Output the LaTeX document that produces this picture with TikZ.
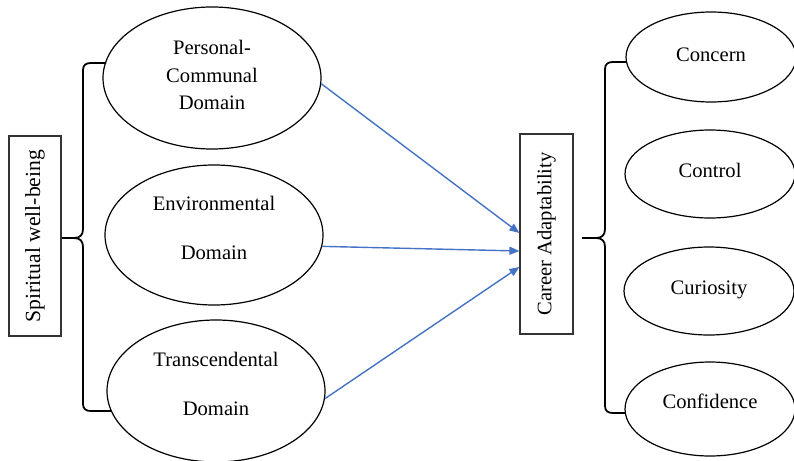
\documentclass[tikz,border=0pt]{standalone}
\usepackage{fontspec}
\setmainfont{Liberation Serif}
\usetikzlibrary{arrows.meta,shapes.geometric}
\definecolor{arrowblue}{HTML}{4472C4}
\begin{document}
\begin{tikzpicture}[x=1pt,y=-1pt,
  font=\fontsize{20.6}{27.5}\selectfont,
  domel/.style={draw=black, line width=1.2pt, ellipse, inner sep=0pt, minimum width=218pt, minimum height=142pt},
  subel/.style={draw=black, line width=1.2pt, ellipse, inner sep=0pt, minimum width=170pt},
  vbox/.style={draw=black!80, line width=1.2pt, rotate=90, minimum width=200pt, inner sep=0pt},
  bracepath/.style={draw=black, line width=1.8pt, line join=round},
  linkarrow/.style={draw=arrowblue, line width=1.4pt, -{Triangle[length=10pt,width=8pt]}},
  lbl/.style={align=center, inner sep=0pt}
]
\useasboundingbox (0,0) rectangle (794,460);

% left domain ellipses
\node[domel] (pc) at (212,78) {};
\node[domel, minimum height=140pt] (env) at (214,235) {};
\node[domel, minimum height=142pt] (tr) at (216,391) {};
\node[lbl] (pct) at ([yshift=3pt]pc.center) {Personal-\\Communal\\Domain};
\node[lbl] (envt) at ([yshift=7pt]env.center) {Environmental\\[21.5pt]Domain};
\node[lbl] (trt) at ([yshift=7pt]tr.center) {Transcendental\\[21.5pt]Domain};

% right ellipses
\node[subel, minimum height=90pt, text depth=4pt] (cn) at (711,57) {Concern};
\node[subel, minimum height=88pt, text depth=8pt] (ct) at (710,174) {Control};
\node[subel, minimum height=88pt, text depth=7pt] (cu) at (709,291) {Curiosity};
\node[subel, minimum height=94pt, text depth=15pt] (cf) at (710,409) {Confidence};

% vertical boxes
\node[vbox, minimum height=52pt, font=\fontsize{21.6}{27.5}\selectfont] (sw) at (35,236) {Spiritual well-being};
\node[vbox, minimum height=53pt] (ca) at (546.5,234) {Career Adaptability};

% left brace
\coordinate (lbtip) at (62,238);
\draw[bracepath] (106,63) -- (91,63) .. controls (86,63) and (83,65) .. (83,70)
  -- (83,229) .. controls (83,235) and (80,238) .. (74,238) -- (lbtip);
\draw[bracepath] (lbtip) -- (74,238) .. controls (80,238) and (83,241) .. (83,247)
  -- (83,404) .. controls (83,409) and (86,411) .. (91,411) -- (111,411);

% right brace
\coordinate (rbtip) at (582,238);
\draw[bracepath] (626,62) -- (613,62) .. controls (608,62) and (605,64) .. (605,69)
  -- (605,229) .. controls (605,235) and (602,238) .. (596,238) -- (rbtip);
\draw[bracepath] (rbtip) -- (596,238) .. controls (602,238) and (605,241) .. (605,247)
  -- (605,406) .. controls (605,411) and (608,413) .. (613,413) -- (625,413);

% arrows (ca.north is the left side of the rotated box)
\draw[linkarrow] (pc.-3) -- ([yshift=1pt]ca.north);
\draw[linkarrow] (env.-6) -- ([yshift=-17pt]ca.north);
\draw[linkarrow] (tr.-4) -- ([yshift=-33pt]ca.north);
\end{tikzpicture}
\end{document}
